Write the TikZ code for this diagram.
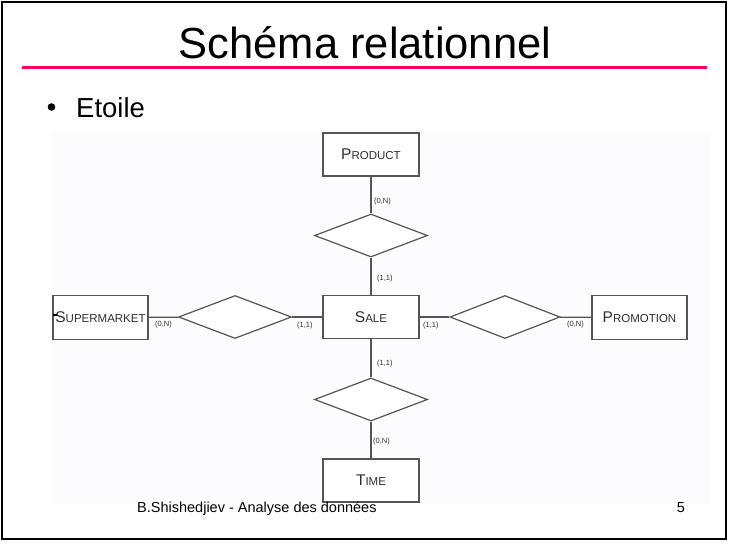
\documentclass[tikz,border=0pt]{standalone}
\usepackage{fontspec}
\setmainfont{Liberation Sans}
\usepackage{xcolor}
\usepackage{tikz}
\usetikzlibrary{shapes.geometric}
\definecolor{Ink}{HTML}{000000}
\definecolor{Rule}{HTML}{FF0066}
\definecolor{Paper}{HTML}{FCFBFE}
\definecolor{Pen}{HTML}{555555}
\definecolor{Label}{HTML}{2E2E2E}
\newcommand{\ercaps}[2]{{\fontsize{15.5}{15.5}\selectfont #1}{\fontsize{11.5}{11.5}\selectfont #2}}
\tikzset{
  entity/.style={draw=Pen,line width=1.2pt,fill=white,minimum width=96pt,minimum height=43pt,inner sep=0pt,text=Label},
  relation/.style={diamond,draw=Pen,line width=1.2pt,fill=white,minimum width=113pt,minimum height=43pt,inner sep=0pt},
  link/.style={draw=Pen,line width=1.2pt},
  card/.style={anchor=west,inner sep=0pt,text=Label,font=\fontsize{7.5}{7.5}\selectfont},
  title/.style={anchor=base,inner sep=0pt,font=\fontsize{43.5}{43.5}\selectfont},
  bullettext/.style={anchor=base west,inner sep=0pt,font=\fontsize{27.5}{27.5}\selectfont},
  footer/.style={anchor=base west,inner sep=0pt,font=\fontsize{14.5}{14.5}\selectfont}
}

\begin{document}
\begin{tikzpicture}[x=1pt,y=-1pt]
  \useasboundingbox (0,0) rectangle (729,544);
  \fill[white] (0,0) rectangle (729,544);
  \draw[Ink,line width=2pt] (2,2) rectangle (726,539);
  % title
  \node[title] (titre) at (365,58) {Schéma relationnel};
  \draw[Rule,line width=3pt] (22,67) -- (707,67);
  \fill[Ink] (51.5,107) circle (3.8);
  \node[bullettext] (etoile) at (76,117) {Etoile};
  % diagram
  \fill[Paper] (52,132) rectangle (711,504);
  \node[entity] (product) at (371,154.5) {\ercaps{P}{RODUCT}};
  \node[relation] (rtop) at (371,235.5) {};
  \node[entity] (sale) at (371,317) {\ercaps{S}{ALE}};
  \node[relation] (rleft) at (235,317) {};
  \node[entity,minimum width=95pt,minimum height=44pt] (supermarket) at (100.5,317.5) {\ercaps{S}{UPERMARKET}};
  \node[relation,minimum width=110pt] (rright) at (505,317) {};
  \node[entity,minimum width=95pt,minimum height=44pt] (promotion) at (639.5,317.5) {\ercaps{P}{ROMOTION}};
  \node[relation] (rbottom) at (371,399.5) {};
  \node[entity] (time) at (371,480.5) {\ercaps{T}{IME}};
  \fill[Ink] (53,313.5) rectangle (56.5,316);
  \draw[link] (product) -- (rtop);
  \draw[link] (rtop) -- (sale);
  \draw[link] (supermarket) -- (rleft);
  \draw[link] (rleft) -- (sale);
  \draw[link] (sale) -- (rright);
  \draw[link] (rright) -- (promotion);
  \draw[link] (sale) -- (rbottom);
  \draw[link] (rbottom) -- (time);
  \node[card] (c1) at (374,202) {(0,N)};
  \node[card] (c2) at (377,279) {(1,1)};
  \node[card] (c3) at (155,325) {(0,N)};
  \node[card] (c4) at (297,326) {(1,1)};
  \node[card] (c5) at (423,326) {(1,1)};
  \node[card] (c6) at (567,325) {(0,N)};
  \node[card] (c7) at (377,364) {(1,1)};
  \node[card] (c8) at (373,442) {(0,N)};
  % footer
  \node[footer] (auteur) at (137,512) {B.Shishedjiev - Analyse des données};
  \node[anchor=base,inner sep=0pt,font=\fontsize{14.5}{14.5}\selectfont] (page) at (681,512) {5};
\end{tikzpicture}
\end{document}
